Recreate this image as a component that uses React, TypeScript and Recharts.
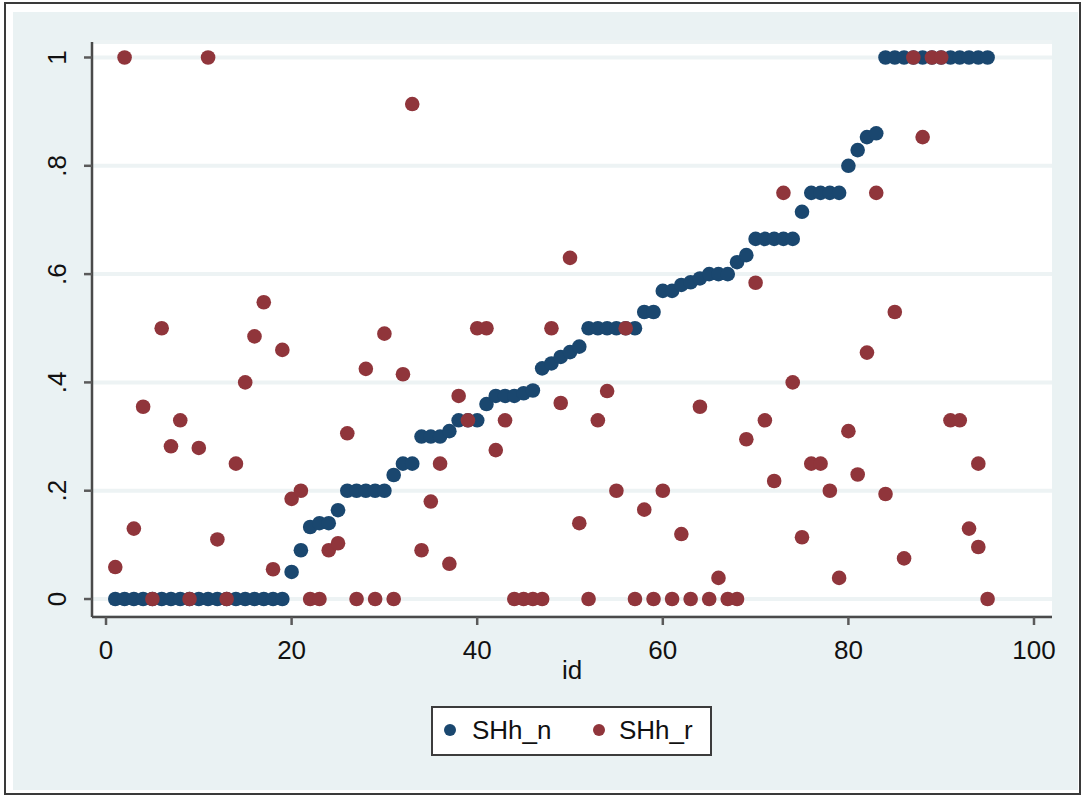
import React from 'react';
import { ScatterChart, Scatter, XAxis, YAxis, CartesianGrid, Legend } from 'recharts';

// id for every record
const idN = [
  1, 2, 3, 4, 5, 6, 7, 8, 9, 10, 11, 12, 13, 14, 15, 16, 17, 18, 19, 20,
  21, 22, 23, 24, 25, 26, 27, 28, 29, 30, 31, 32, 33, 34, 35, 36, 37, 38, 39, 40,
  41, 42, 43, 44, 45, 46, 47, 48, 49, 50, 51, 52, 53, 54, 55, 56, 57, 58, 59, 60,
  61, 62, 63, 64, 65, 66, 67, 68, 69, 70, 71, 72, 73, 74, 75, 76, 77, 78, 79, 80,
  81, 82, 83, 84, 85, 86, 87, 88, 89, 90, 91, 92, 93, 94, 95,
];

const shhN = [
  0, 0, 0, 0, 0, 0, 0, 0, 0, 0, 0, 0, 0, 0, 0, 0, 0, 0, 0, 0.05,
  0.09, 0.133, 0.14, 0.14, 0.164, 0.2, 0.2, 0.2, 0.2, 0.2, 0.229, 0.25, 0.25, 0.3, 0.3, 0.3, 0.31, 0.33, 0.33, 0.33,
  0.36, 0.375, 0.375, 0.375, 0.38, 0.385, 0.426, 0.435, 0.447, 0.456, 0.466, 0.5, 0.5, 0.5, 0.5, 0.5, 0.5, 0.53, 0.53, 0.569,
  0.569, 0.58, 0.585, 0.592, 0.6, 0.6, 0.6, 0.622, 0.635, 0.665, 0.665, 0.665, 0.665, 0.665, 0.715, 0.75, 0.75, 0.75, 0.75, 0.8,
  0.829, 0.853, 0.86, 1, 1, 1, 1, 1, 1, 1, 1, 1, 1, 1, 1,
];

// id 94 appears twice in SHh_r
const idR = [
  1, 2, 3, 4, 5, 6, 7, 8, 9, 10, 11, 12, 13, 14, 15, 16, 17, 18, 19, 20,
  21, 22, 23, 24, 25, 26, 27, 28, 29, 30, 31, 32, 33, 34, 35, 36, 37, 38, 39, 40,
  41, 42, 43, 44, 45, 46, 47, 48, 49, 50, 51, 52, 53, 54, 55, 56, 57, 58, 59, 60,
  61, 62, 63, 64, 65, 66, 67, 68, 69, 70, 71, 72, 73, 74, 75, 76, 77, 78, 79, 80,
  81, 82, 83, 84, 85, 86, 87, 88, 89, 90, 91, 92, 93, 94, 94, 95,
];

const shhR = [
  0.059, 1, 0.13, 0.355, 0, 0.5, 0.282, 0.33, 0, 0.279, 1, 0.11, 0, 0.25, 0.4, 0.485, 0.548, 0.055, 0.46, 0.185,
  0.2, 0, 0, 0.09, 0.103, 0.306, 0, 0.425, 0, 0.49, 0, 0.415, 0.914, 0.09, 0.18, 0.25, 0.065, 0.375, 0.33, 0.5,
  0.5, 0.275, 0.33, 0, 0, 0, 0, 0.5, 0.362, 0.63, 0.14, 0, 0.33, 0.384, 0.2, 0.5, 0, 0.165, 0, 0.2,
  0, 0.12, 0, 0.355, 0, 0.039, 0, 0, 0.295, 0.584, 0.33, 0.218, 0.75, 0.4, 0.114, 0.25, 0.25, 0.2, 0.039, 0.31,
  0.23, 0.455, 0.75, 0.194, 0.53, 0.075, 1, 0.853, 1, 1, 0.33, 0.33, 0.13, 0.25, 0.096, 0,
];

const xTicks = [0, 20, 40, 60, 80, 100];
const yTicks = [0, 0.2, 0.4, 0.6, 0.8, 1];
const yTickLabels = ['0', '.2', '.4', '.6', '.8', '1'];

const NAVY = '#1a476f';
const MAROON = '#90353b';
const FONT = '"Liberation Sans", Arial, Helvetica, sans-serif';

const dataN = idN.map((id, i) => ({ id, v: shhN[i] }));
const dataR = idR.map((id, i) => ({ id, v: shhR[i] }));

const Dot = (color: string) => (props: any) => (
  <circle cx={props.cx} cy={props.cy} r={7.3} fill={color} />
);

const XTick = ({ x, y, payload }: any) => (
  <text x={x} y={y} dy={34} textAnchor="middle" fontSize={26} fontFamily={FONT} fill="#111">
    {payload.value}
  </text>
);

const YTick = ({ x, y, payload }: any) => {
  const cx = x - 27;
  const idx = yTicks.indexOf(payload.value);
  return (
    <text
      x={cx}
      y={y}
      textAnchor="middle"
      dominantBaseline="central"
      transform={`rotate(-90 ${cx} ${y})`}
      fontSize={26}
      fontFamily={FONT}
      fill="#111"
    >
      {idx >= 0 ? yTickLabels[idx] : payload.value}
    </text>
  );
};

const LegendBox = () => (
  <div
    style={{
      position: 'relative',
      width: 281,
      height: 50,
      boxSizing: 'border-box',
      border: '2px solid #3c3c3c',
      background: '#fff',
      fontFamily: FONT,
      fontSize: 26,
      color: '#111',
    }}
  >
    <svg width={281} height={50} style={{ position: 'absolute', left: -2, top: -2 }}>
      <circle cx={19} cy={24} r={6} fill={NAVY} />
      <circle cx={168} cy={24} r={6} fill={MAROON} />
    </svg>
    <span style={{ position: 'absolute', left: 39, top: 7, lineHeight: '30px' }}>SHh_n</span>
    <span style={{ position: 'absolute', left: 186, top: 7, lineHeight: '30px' }}>SHh_r</span>
  </div>
);

export default function App() {
  return (
    <div style={{ position: 'absolute', left: 0, top: 0, width: 1083, height: 796, background: '#fff' }}>
      <div
        style={{
          position: 'absolute',
          left: 4,
          top: 2,
          width: 1077,
          height: 793,
          boxSizing: 'border-box',
          border: '2px solid #3a3a3a',
        }}
      />
      <div style={{ position: 'absolute', left: 13, top: 12, width: 1065, height: 778, background: '#eaf2f3' }} />
      <div style={{ position: 'absolute', left: 0, top: 0 }}>
        <ScatterChart width={1083} height={796} margin={{ top: 42, right: 31, bottom: 119, left: 12 }}>
          <CartesianGrid vertical={false} horizontal fill="#ffffff" stroke="#edf3f4" strokeWidth={4} />
          <XAxis
            type="number"
            dataKey="id"
            domain={[-1.51, 101.94]}
            ticks={xTicks}
            allowDataOverflow
            height={60}
            tickSize={8}
            tickMargin={0}
            tick={<XTick />}
            axisLine={{ stroke: '#4a4a4a', strokeWidth: 2.5 }}
            tickLine={{ stroke: '#5a5a5a', strokeWidth: 2.5 }}
            label={{ value: 'id', position: 'insideTop', offset: 44, fontSize: 26, fontFamily: FONT, fill: '#111' }}
          />
          <YAxis
            type="number"
            dataKey="v"
            domain={[-0.0332, 1.0286]}
            ticks={yTicks}
            allowDataOverflow
            width={80}
            tickSize={8}
            tickMargin={0}
            tick={<YTick />}
            axisLine={{ stroke: '#4a4a4a', strokeWidth: 2.5 }}
            tickLine={{ stroke: '#5a5a5a', strokeWidth: 2.5 }}
          />
          <Legend
            layout="horizontal"
            verticalAlign="middle"
            align="center"
            content={<LegendBox />}
            wrapperStyle={{ left: 431, top: 706, width: 281, height: 50 }}
          />
          <Scatter name="SHh_n" data={dataN} fill={NAVY} shape={Dot(NAVY)} isAnimationActive={false} />
          <Scatter name="SHh_r" data={dataR} fill={MAROON} shape={Dot(MAROON)} isAnimationActive={false} />
        </ScatterChart>
      </div>
    </div>
  );
}
